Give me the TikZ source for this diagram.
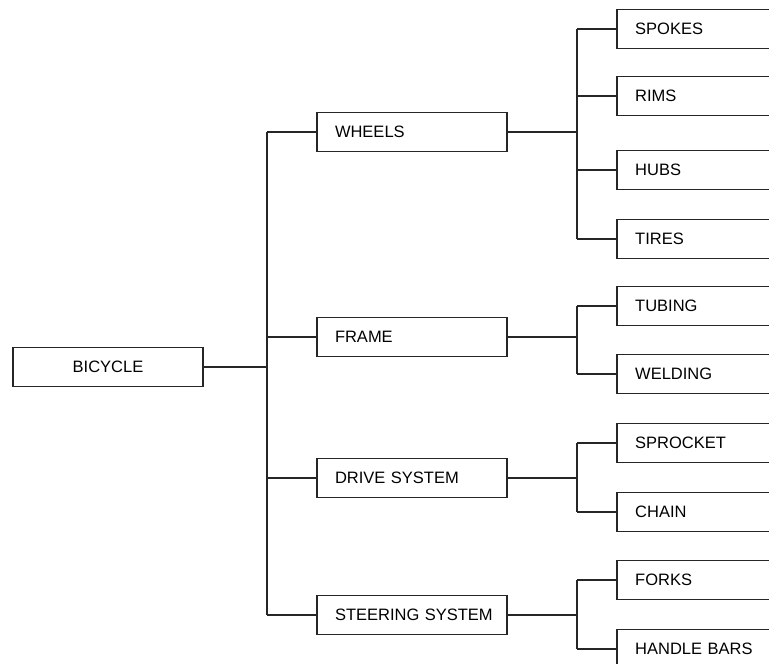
\documentclass[tikz,border=0pt]{standalone}
\usepackage{fontspec}
\setmainfont{Liberation Sans}
\begin{document}
\begin{tikzpicture}[x=1pt,y=-1pt,
  lw/.style={line width=1.3pt, draw=black!85},
  boxa/.style={rectangle, minimum height=39pt, inner ysep=0pt,
    font=\fontsize{16.5}{20}\selectfont},
  bicbox/.style={boxa, lw, minimum width=190pt, align=center},
  lvone/.style={boxa, lw, minimum width=190pt, text width=154pt, inner xsep=18pt, align=left},
  lvtwo/.style={boxa, anchor=west, text width=200pt, inner xsep=18pt, align=left},
  conn/.style={lw}]
\useasboundingbox (0,0) rectangle (769,664);
\fill[white] (0,0) rectangle (769,664);
\begin{scope}
\clip (0,0) rectangle (769,664);
% root
\node[bicbox] (bic) at (108,367) {BICYCLE};
% level 1
\node[lvone] (wheels) at (412,132) {WHEELS};
\node[lvone] (frame)  at (412,337) {FRAME};
\node[lvone] (drive)  at (412,478) {DRIVE SYSTEM};
\node[lvone] (steer)  at (412,615) {\mbox{STEERING SYSTEM}};
% level 2 (boxes run off the right edge)
\node[lvtwo] (spokes) at (617,29)  {SPOKES};
\node[lvtwo] (rims)   at (617,96)  {RIMS};
\node[lvtwo] (hubs)   at (617,170) {HUBS};
\node[lvtwo] (tires)  at (617,239) {TIRES};
\node[lvtwo] (tubing) at (617,306) {TUBING};
\node[lvtwo] (weld)   at (617,374) {WELDING};
\node[lvtwo] (sprock) at (617,443) {SPROCKET};
\node[lvtwo] (chain)  at (617,512) {CHAIN};
\node[lvtwo] (forks)  at (617,580) {FORKS};
\node[lvtwo] (handle) at (617,649) {HANDLE BARS};
\foreach \n in {spokes,rims,hubs,tires,tubing,weld,sprock,chain,forks,handle}
  \draw[lw] (\n.north east) -- (\n.north west) -- (\n.south west) -- (\n.south east);
% junctions
\coordinate (j0) at (267,367);
\coordinate (jw) at (577,132);
\coordinate (jf) at (577,337);
\coordinate (jd) at (577,478);
\coordinate (js) at (577,615);
% root connectors
\draw[conn] (bic.east) -- (j0);
\draw[conn] (j0 |- wheels.west) -- (j0 |- steer.west);
\foreach \n in {wheels,frame,drive,steer}
  \draw[conn] (j0 |- \n.west) -- (\n.west);
% wheels
\draw[conn] (wheels.east) -- (jw);
\draw[conn] (jw |- spokes.west) -- (jw |- tires.west);
\foreach \n in {spokes,rims,hubs,tires}
  \draw[conn] (jw |- \n.west) -- (\n.west);
% frame
\draw[conn] (frame.east) -- (jf);
\draw[conn] (jf |- tubing.west) -- (jf |- weld.west);
\foreach \n in {tubing,weld}
  \draw[conn] (jf |- \n.west) -- (\n.west);
% drive
\draw[conn] (drive.east) -- (jd);
\draw[conn] (jd |- sprock.west) -- (jd |- chain.west);
\foreach \n in {sprock,chain}
  \draw[conn] (jd |- \n.west) -- (\n.west);
% steering
\draw[conn] (steer.east) -- (js);
\draw[conn] (js |- forks.west) -- (js |- handle.west);
\foreach \n in {forks,handle}
  \draw[conn] (js |- \n.west) -- (\n.west);
\end{scope}
\end{tikzpicture}
\end{document}
